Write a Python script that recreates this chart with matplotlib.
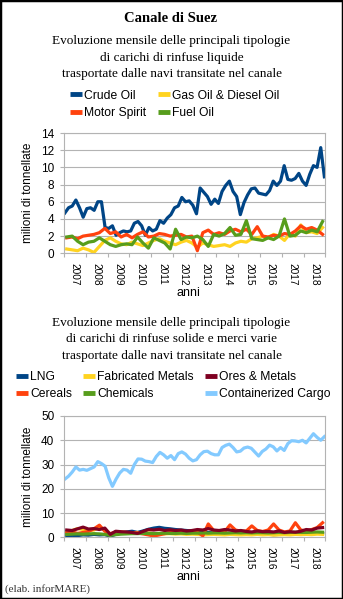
import numpy as np
import matplotlib
matplotlib.use('Agg')
import matplotlib.pyplot as plt
from matplotlib.patches import Rectangle

plt.rcParams['font.family'] = 'Liberation Sans'

# -----------------------------------------------------------------------------
# Data (million tonnes)
years = [str(y) for y in range(2007, 2019)]

# liquid bulk, bimonthly readings
crude_oil = [4.7, 5.3, 5.5, 6.2, 5.3, 4.2, 5.2, 5.3, 5.0, 6.0, 6.0, 3.0,
             2.9, 3.2, 2.1, 2.4, 2.6, 2.5, 2.6, 3.5, 3.7, 3.2, 2.1, 3.0,
             2.6, 2.8, 3.8, 3.5, 4.1, 4.5, 5.3, 5.5, 6.5, 6.0, 6.1, 5.6,
             4.6, 7.6, 7.1, 6.6, 5.7, 6.3, 5.8, 7.2, 7.9, 8.4, 7.2, 6.6,
             4.5, 5.9, 6.8, 7.5, 7.6, 7.0, 6.9, 6.8, 7.3, 8.4, 7.9, 8.4,
             10.2, 8.6, 8.5, 8.7, 9.3, 8.4, 7.9, 9.2, 10.2, 10.0, 12.3, 8.9]

# liquid bulk, quarterly readings
gas_oil = [0.5, 0.4, 0.3, 0.6, 0.4, 0.1, 0.8, 1.5, 1.8, 1.4, 1.1, 1.0,
           1.3, 1.1, 0.9, 1.2, 1.5, 1.7, 1.4, 1.2, 1.0, 1.3, 1.5, 1.2,
           0.7, 1.2, 1.0, 0.8, 0.9, 1.0, 0.8, 1.2, 1.4, 1.3, 1.7, 1.8,
           2.0, 1.8, 2.2, 2.0, 1.5, 2.3, 2.0, 3.3, 2.4, 2.5, 2.3, 3.0]
motor_spirit = [1.8, 1.9, 1.7, 2.0, 2.1, 2.2, 2.4, 2.9, 2.3, 2.5, 1.9, 2.2,
                1.8, 2.2, 2.5, 1.9, 2.0, 2.3, 2.2, 2.0, 2.1, 2.2, 1.9, 2.0,
                0.3, 2.4, 2.7, 2.2, 2.4, 2.2, 2.6, 2.8, 2.5, 2.8, 2.2, 3.1,
                2.0, 1.9, 2.1, 2.0, 2.3, 2.2, 2.6, 3.2, 2.8, 3.0, 2.7, 2.2]
fuel_oil = [1.9, 2.0, 1.4, 1.0, 1.3, 1.4, 1.8, 1.4, 1.0, 0.8, 1.0, 1.1,
            1.0, 1.9, 1.2, 0.6, 1.8, 1.5, 1.2, 0.5, 2.8, 1.6, 1.9, 1.8,
            2.0, 1.6, 0.8, 2.2, 2.0, 2.3, 3.0, 2.1, 2.2, 3.8, 1.7, 1.6,
            1.5, 1.8, 1.6, 2.0, 4.0, 2.0, 2.1, 2.6, 2.4, 2.7, 2.5, 3.7]

# dry bulk and general cargo, bimonthly readings
containerized = [24.0, 25.2, 26.9, 29.0, 27.7, 28.0, 27.6, 28.3, 29.0, 31.2, 30.4, 29.3,
                 24.5, 21.0, 24.0, 26.5, 28.0, 27.7, 26.4, 30.0, 32.3, 32.2, 31.4, 31.2,
                 30.8, 33.3, 35.0, 34.0, 32.6, 33.7, 32.0, 34.5, 35.2, 34.3, 32.6, 31.5,
                 32.0, 34.0, 35.3, 35.5, 34.5, 34.0, 34.0, 37.0, 37.9, 38.4, 37.0, 35.2,
                 35.5, 36.8, 37.2, 36.7, 35.1, 33.5, 35.4, 36.4, 38.0, 37.3, 35.6, 37.0,
                 35.8, 38.6, 39.8, 39.7, 39.4, 40.0, 38.9, 40.8, 42.7, 41.2, 40.0, 41.5]

# dry bulk and general cargo, quarterly readings
lng = [0.6, 0.8, 0.7, 1.0, 0.9, 1.2, 1.0, 1.1, 0.5, 1.2, 1.8, 2.2,
       2.5, 2.0, 2.6, 3.3, 3.8, 4.1, 3.7, 3.5, 3.2, 3.0, 2.8, 2.6,
       2.5, 2.2, 2.0, 1.8, 1.8, 1.6, 1.5, 1.4, 1.5, 1.3, 1.2, 1.3,
       1.2, 1.3, 1.1, 1.2, 1.3, 1.4, 1.3, 1.5, 1.6, 1.5, 1.8, 1.6]
fabricated_metals = [2.0, 2.8, 3.6, 3.2, 2.8, 3.0, 4.2, 3.0, 1.0, 1.8, 2.2, 2.0,
                     1.8, 2.0, 1.6, 1.8, 1.5, 1.6, 1.4, 1.5, 1.3, 1.4, 1.2, 1.3,
                     1.2, 1.0, 1.1, 1.2, 1.1, 1.0, 1.2, 1.1, 1.0, 1.1, 1.0, 1.2,
                     1.0, 1.1, 0.9, 1.0, 1.1, 1.0, 1.2, 1.1, 1.2, 1.1, 1.3, 1.2]
ores_metals = [3.0, 2.8, 3.5, 4.2, 3.4, 3.6, 3.2, 3.8, 1.2, 2.5, 2.3, 2.2,
               2.0, 1.6, 2.4, 3.2, 3.0, 3.3, 2.8, 3.1, 2.8, 3.0, 2.6, 2.8,
               3.2, 3.0, 3.6, 3.0, 2.8, 3.2, 3.0, 2.6, 2.8, 2.4, 2.2, 2.6,
               2.3, 2.4, 2.2, 2.6, 2.0, 2.3, 2.1, 2.5, 3.2, 3.0, 3.8, 4.0]
cereals = [1.8, 2.2, 1.6, 2.0, 2.4, 3.5, 5.0, 2.5, 1.5, 2.2, 2.0, 1.8,
           1.6, 1.8, 1.4, 1.0, 0.5, 1.0, 1.5, 2.0, 2.2, 2.0, 1.8, 2.0,
           2.2, 0.6, 5.5, 2.8, 2.4, 2.3, 5.1, 3.0, 2.5, 2.6, 4.7, 2.8,
           2.4, 3.0, 5.5, 3.0, 2.2, 2.6, 6.0, 3.0, 2.6, 3.2, 4.0, 6.0]
chemicals = [1.2, 1.3, 1.4, 1.3, 1.4, 1.5, 1.4, 1.2, 0.8, 1.1, 1.3, 1.4,
             1.5, 1.5, 1.6, 1.6, 1.5, 1.6, 1.7, 1.6, 1.6, 1.7, 1.6, 1.7,
             1.7, 1.8, 1.7, 1.8, 1.8, 1.7, 1.8, 1.9, 1.8, 1.9, 1.8, 1.9,
             1.9, 1.8, 1.9, 2.0, 1.9, 2.0, 2.1, 2.0, 2.0, 2.1, 2.2, 2.1]

# time positions (years, monthly category axis Jan 2007 - Dec 2018)
t_bi = 2007 + np.linspace(0.5, 143.5, len(crude_oil)) / 12
t_q = 2007 + (np.arange(len(gas_oil)) * 3 + 1.5) / 12

# -----------------------------------------------------------------------------
# Colours
c_blue = '#004586'
c_yellow = '#ffd320'
c_red = '#ff420e'
c_green = '#579d1c'
c_brown = '#7e0021'
c_sky = '#83caff'
grid_col = '#b3b3b3'
lw = 2.3

fig = plt.figure(figsize=(3.43, 5.99), dpi=100)
W, H = 343.0, 599.0
serif = 'Liberation Serif'


def px_axes(x0, y0, x1, y1):
    return fig.add_axes([x0 / W, 1 - y1 / H, (x1 - x0) / W, (y1 - y0) / H])


def style_axes(ax, ymax, ystep, y_top, y_bot):
    ax.set_xlim(2007, 2019)
    ax.set_ylim(0, ymax)
    ax.set_yticks(np.arange(0, ymax + 1, ystep))
    ax.set_xticks(range(2007, 2020))
    ax.set_xticklabels([])
    ax.set_xticks([y + 0.5 for y in range(2007, 2019)], minor=True)
    ax.set_xticklabels(years, minor=True, rotation=270, fontsize=7.3)
    ax.tick_params(axis='x', which='major', length=3, color=grid_col, width=0.8)
    ax.tick_params(axis='x', which='minor', length=0, pad=7)
    ax.tick_params(axis='y', length=3, color=grid_col, width=0.8, pad=4, labelsize=8.5)
    ax.grid(axis='y', color=grid_col, lw=0.8)
    ax.set_axisbelow(True)
    for s in ax.spines.values():
        s.set_color(grid_col)
        s.set_linewidth(0.8)
    # axis titles placed in figure pixels
    fig.text(28 / W, 1 - (y_top + y_bot) / 2 / H, 'milioni di tonnellate',
             fontsize=8.5, rotation=90, ha='center', va='center')
    fig.text(188 / W, 1 - (y_bot + 39.5) / H, 'anni', fontsize=9,
             ha='center', va='center')


def fix_legend(leg):
    for l in leg.get_lines():
        l.set_linewidth(3.5)
        l.set_solid_capstyle('butt')


# -----------------------------------------------------------------------------
# Titles
fig.text(0.4977, 1 - 19 / H, 'Canale di Suez', family=serif, fontsize=10.5,
         fontweight='bold', ha='center', va='center')

sub1 = ['Evoluzione mensile delle principali tipologie',
        'di carichi di rinfuse liquide',
        'trasportate dalle navi transitate nel canale']
for i, line in enumerate(sub1):
    fig.text(0.5, 1 - (41 + 16.5 * i) / H, line, family=serif, fontsize=9.5,
             ha='center', va='center')

sub2 = ['Evoluzione mensile delle principali tipologie',
        'di carichi di rinfuse solide e merci varie',
        'trasportate dalle navi transitate nel canale']
for i, line in enumerate(sub2):
    fig.text(0.5, 1 - (323 + 16.5 * i) / H, line, family=serif, fontsize=9.5,
             ha='center', va='center')

# -----------------------------------------------------------------------------
# Top chart: liquid bulk
ax1 = px_axes(64, 133, 325.3, 253.3)
h_crude, = ax1.plot(t_bi, crude_oil, color=c_blue, lw=lw, label='Crude Oil')
h_gas, = ax1.plot(t_q, gas_oil, color=c_yellow, lw=lw, label='Gas Oil & Diesel Oil')
h_motor, = ax1.plot(t_q, motor_spirit, color=c_red, lw=lw, label='Motor Spirit')
h_fuel, = ax1.plot(t_q, fuel_oil, color=c_green, lw=lw, label='Fuel Oil')
style_axes(ax1, 14, 2, 133, 253.3)

leg1 = fig.legend([h_crude, h_motor, h_gas, h_fuel],
                  ['Crude Oil', 'Motor Spirit', 'Gas Oil & Diesel Oil', 'Fuel Oil'],
                  loc='upper left', bbox_to_anchor=(70 / W, 1 - 89.5 / H),
                  ncol=2, frameon=False, fontsize=8.7, borderpad=0, borderaxespad=0,
                  handlelength=1.0, handletextpad=0.17, columnspacing=1.0,
                  labelspacing=0.45)
fix_legend(leg1)

# -----------------------------------------------------------------------------
# Bottom chart: dry bulk and general cargo
ax2 = px_axes(64, 416, 325.3, 537.3)
h_lng, = ax2.plot(t_q, lng, color=c_blue, lw=lw, label='LNG')
h_fab, = ax2.plot(t_q, fabricated_metals, color=c_yellow, lw=lw, label='Fabricated Metals')
h_cer, = ax2.plot(t_q, cereals, color=c_red, lw=lw, label='Cereals')
h_chem, = ax2.plot(t_q, chemicals, color=c_green, lw=lw, label='Chemicals')
h_ores, = ax2.plot(t_q, ores_metals, color=c_brown, lw=lw, label='Ores & Metals')
h_cont, = ax2.plot(t_bi, containerized, color=c_sky, lw=lw, label='Containerized Cargo')
style_axes(ax2, 50, 10, 416, 537.3)

leg2 = fig.legend([h_lng, h_cer, h_fab, h_chem, h_ores, h_cont],
                  ['LNG', 'Cereals', 'Fabricated Metals', 'Chemicals',
                   'Ores & Metals', 'Containerized Cargo'],
                  loc='upper left', bbox_to_anchor=(16 / W, 1 - 371 / H),
                  ncol=3, frameon=False, fontsize=8.7, borderpad=0, borderaxespad=0,
                  handlelength=1.0, handletextpad=0.17, columnspacing=0.9,
                  labelspacing=0.45)
fix_legend(leg2)

# -----------------------------------------------------------------------------
fig.text(5 / W, 1 - 589 / H, '(elab. inforMARE)', family=serif, fontsize=8,
         color='#333333', ha='left', va='center')

fig.patches.append(Rectangle((0, 0), 1, 1, transform=fig.transFigure, fill=False,
                             edgecolor='black', linewidth=2.5))

fig.savefig('out.png', dpi=100)
